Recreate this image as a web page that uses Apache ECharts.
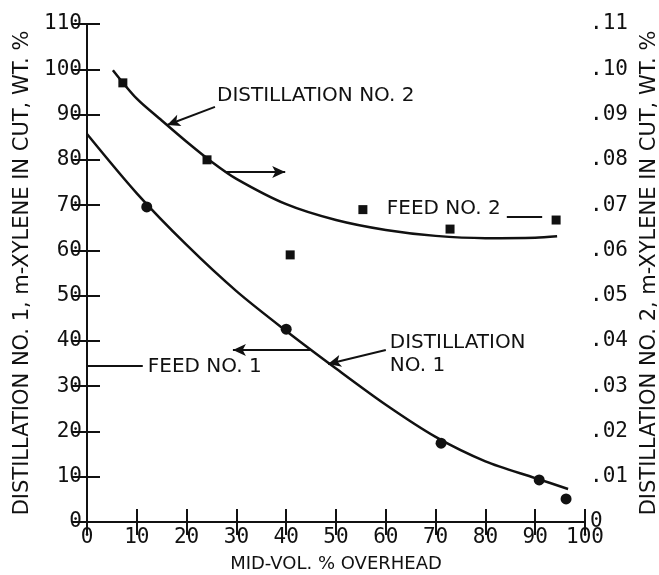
<!DOCTYPE html>
<html>
<head>
<meta charset="utf-8">
<script src="https://cdn.jsdelivr.net/npm/echarts@6/dist/echarts.min.js"></script>
<style>
  html, body { margin: 0; background: #fff; }
  #chart { width: 659px; height: 575px; }
</style>
</head>
<body>
<div id="chart"></div>
<script>
// smooth curves as drawn in the figure (x = mid-vol % overhead)
var dist1CurveX = [0, 10, 20, 30, 40, 50, 60, 70, 80, 90, 96.6]
var dist1CurveY = [85.7, 72.6, 61.2, 51.0, 42.2, 33.9, 25.9, 18.8, 13.4, 9.7, 7.3]
var dist2CurveX = [5.2, 10, 15, 20, 25, 30, 40, 50, 60, 70, 80, 90, 94.4]
var dist2CurveY = [0.0998, 0.0935, 0.0887, 0.084, 0.0796, 0.0758, 0.0702, 0.0667, 0.0645, 0.0632, 0.0627, 0.0628, 0.0631]

// measured points
var dist1PointX = [12, 40, 71.1, 90.8, 96.2]
var dist1PointY = [69.6, 42.6, 17.4, 9.3, 5.1]
var dist2PointX = [7.2, 24.1, 40.8, 55.4, 72.9, 94.2]
var dist2PointY = [0.097, 0.08, 0.059, 0.069, 0.0647, 0.0667]

// annotations (left axis units)
var noteText = ['DISTILLATION NO. 2', 'FEED NO. 2', 'DISTILLATION\nNO. 1', 'FEED NO. 1']
var notePos = [[26.1, 94.2], [60.2, 69.1], [60.8, 37.1], [12.2, 34.2]]
var arrowLines = [
  [[25.7, 91.7], [16.1, 87.7]],
  [[27.7, 77.3], [39.8, 77.3]],
  [[60.0, 38.0], [48.4, 34.9]],
  [[44.8, 38.0], [29.3, 38.0]]
]
var plainLines = [
  [[84.3, 67.4], [91.4, 67.4]],
  [[0, 34.5], [11.2, 34.5]]
]

var ink = '#111'
var font = 'DejaVu Sans'
var tickFont = 'DejaVu Sans Mono'

function zip(xs, ys) {
  return xs.map(function (x, i) { return [x, ys[i]] })
}

var markData = []
arrowLines.forEach(function (l) {
  markData.push([
    { coord: l[0], symbol: 'none' },
    { coord: l[1], symbol: 'arrow', symbolSize: [9, 13] }
  ])
})
plainLines.forEach(function (l) {
  markData.push([
    { coord: l[0], symbol: 'none' },
    { coord: l[1], symbol: 'none' }
  ])
})

var axisCommon = {
  axisLine: { show: true, lineStyle: { color: ink, width: 2 } },
  axisTick: { show: true, inside: true, length: 13, lineStyle: { color: ink, width: 2 } },
  splitLine: { show: false },
  axisLabel: { color: ink, fontFamily: tickFont, fontSize: 21 }
}

var option = {
  animation: false,
  backgroundColor: '#fff',
  grid: { left: 87, right: 74, top: 24, bottom: 53, outerBoundsMode: 'none', containLabel: false },
  xAxis: [
    Object.assign({}, axisCommon, {
      type: 'value', min: 0, max: 100, interval: 10,
      name: 'MID-VOL. % OVERHEAD',
      nameLocation: 'middle', nameGap: 33,
      nameTextStyle: { color: ink, fontFamily: font, fontSize: 18 },
      axisLabel: { color: ink, fontFamily: tickFont, fontSize: 21, margin: 5 }
    }),
    Object.assign({}, axisCommon, {
      type: 'value', min: 0, max: 100, interval: 10, position: 'top',
      axisLabel: { show: false }
    })
  ],
  yAxis: [
    Object.assign({}, axisCommon, {
      type: 'value', min: 0, max: 110, interval: 10,
      name: 'DISTILLATION NO. 1, m-XYLENE IN CUT, WT. %',
      nameLocation: 'middle', nameGap: 54, nameRotate: 90,
      nameTextStyle: { color: ink, fontFamily: font, fontSize: 21 },
      axisLabel: { color: ink, fontFamily: tickFont, fontSize: 21, margin: 5 }
    }),
    Object.assign({}, axisCommon, {
      type: 'value', min: 0, max: 0.11, interval: 0.01, position: 'right',
      name: 'DISTILLATION NO. 2, m-XYLENE IN CUT, WT. %',
      nameLocation: 'middle', nameGap: 50, nameRotate: 90,
      nameTextStyle: { color: ink, fontFamily: font, fontSize: 21 },
      axisTick: { show: true, inside: true, length: 15, lineStyle: { color: ink, width: 2 } },
      axisLabel: {
        color: ink, fontFamily: tickFont, fontSize: 21, margin: 5,
        formatter: function (v) {
          if (v === 0) return '0'
          return '.' + String(Math.round(v * 100)).padStart(2, '0')
        }
      }
    })
  ],
  series: [
    {
      type: 'line', name: 'Distillation No. 1', xAxisIndex: 0, yAxisIndex: 0,
      data: zip(dist1CurveX, dist1CurveY), smooth: 0.3, showSymbol: false,
      lineStyle: { color: ink, width: 2.5 }
    },
    {
      type: 'line', name: 'Distillation No. 2', xAxisIndex: 0, yAxisIndex: 1,
      data: zip(dist2CurveX, dist2CurveY), smooth: 0.3, showSymbol: false,
      lineStyle: { color: ink, width: 2.5 }
    },
    {
      type: 'scatter', xAxisIndex: 0, yAxisIndex: 0,
      data: zip(dist1PointX, dist1PointY), symbol: 'circle', symbolSize: 11,
      itemStyle: { color: ink, opacity: 1 }
    },
    {
      type: 'scatter', xAxisIndex: 0, yAxisIndex: 1,
      data: zip(dist2PointX, dist2PointY), symbol: 'rect', symbolSize: 9,
      itemStyle: { color: ink, opacity: 1 }
    },
    {
      type: 'scatter', xAxisIndex: 0, yAxisIndex: 0, symbolSize: 0,
      itemStyle: { color: ink, opacity: 1 },
      data: noteText.map(function (t, i) { return { name: t, value: notePos[i] } }),
      label: {
        show: true, position: 'right', distance: 0, formatter: '{b}',
        color: ink, fontFamily: font, fontSize: 20, lineHeight: 23, align: 'left'
      },
      markLine: {
        silent: true, symbol: ['none', 'none'],
        lineStyle: { color: ink, width: 2, type: 'solid', opacity: 1 },
        label: { show: false },
        data: markData
      }
    }
  ]
}

var chart = echarts.init(document.getElementById('chart'))
chart.setOption(option)
</script>
</body>
</html>
